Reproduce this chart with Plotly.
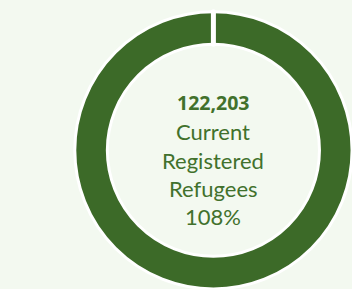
import plotly.graph_objects as go

# Data
slice_labels = ["Current Registered Refugees", "start"]
slice_values = [122203, 0]
registered = "122,203"
caption_lines = ["Current", "Registered", "Refugees"]
percent_text = "108%"

ring_color = "#3C6A28"
text_color = "#41712C"
bg_color = "#F3F9F0"

fig = go.Figure()
fig.add_trace(go.Pie(
    labels=slice_labels,
    values=slice_values,
    hole=0.765,
    sort=False,
    direction="clockwise",
    rotation=0,
    textinfo="none",
    hoverinfo="label+value",
    showlegend=False,
    marker=dict(colors=[ring_color, ring_color],
                line=dict(color="white", width=[3, 5])),
    domain=dict(x=[0.2125, 1.0], y=[0.0, 0.96]),
))

cx = 0.6065
lines = [f"<b>{registered}</b>"] + caption_lines + [percent_text]
ys_px = [102, 131, 160, 188, 216]
sizes = [19.5, 22, 22, 22, 22]
fams = ["Open Sans", "Lato", "Lato", "Lato", "Lato"]
for txt, ypx, sz, fam in zip(lines, ys_px, sizes, fams):
    fig.add_annotation(
        x=cx, y=1 - ypx / 289, xref="paper", yref="paper",
        text=txt, showarrow=False, xanchor="center", yanchor="middle",
        font=dict(family=fam, size=sz, color=text_color),
    )

fig.update_layout(
    width=352, height=289,
    margin=dict(l=0, r=0, t=0, b=0),
    paper_bgcolor=bg_color, plot_bgcolor=bg_color,
)

fig.write_html(
    "out.html",
    config={"displayModeBar": False},
    post_script="document.body.style.margin='0';document.body.style.overflow='hidden';",
)
